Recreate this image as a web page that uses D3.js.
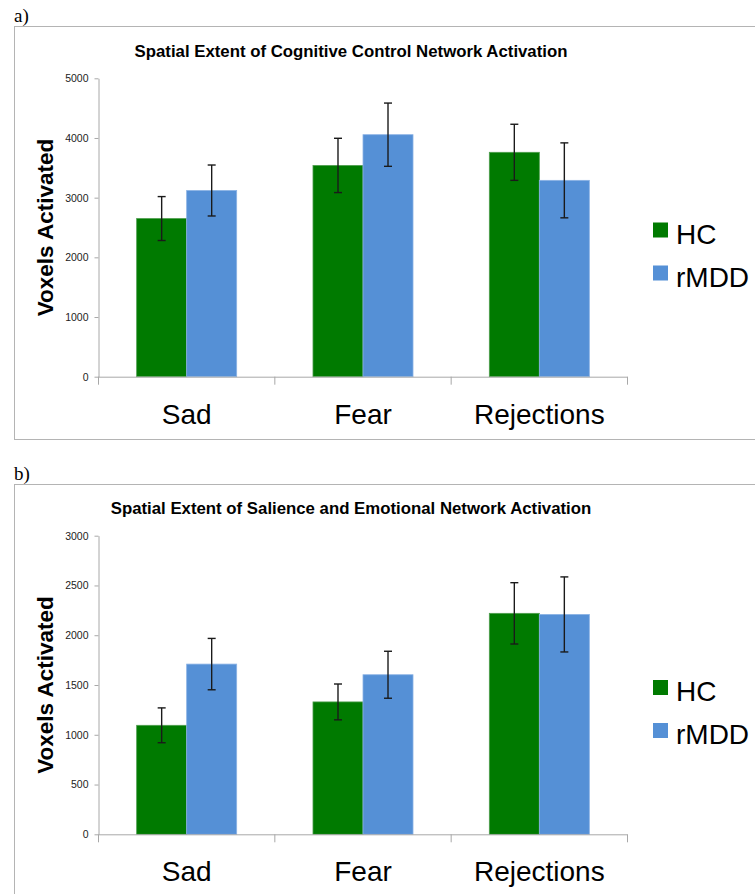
<!DOCTYPE html>
<html>
<head>
<meta charset="utf-8">
<script src="https://cdn.jsdelivr.net/npm/d3@7"></script>
<style>
  body { margin: 0; background: #fff; }
  svg { display: block; }
  .tick text { font-family: "Liberation Sans", Arial, sans-serif; }
</style>
</head>
<body>
<div id="chart"></div>
<script>
// categories + groups shared by both panels
var categories = ["Sad", "Fear", "Rejections"];
var groups = ["HC", "rMDD"];

// a) cognitive control network
var ccnHC = [2650, 3540, 3760];
var ccnHCErr = [368, 455, 470];
var ccnMDD = [3120, 4055, 3290];
var ccnMDDErr = [427, 530, 628];
var ccnTicks = [0, 1000, 2000, 3000, 4000, 5000];

// b) salience and emotional network
var senHC = [1095, 1330, 2220];
var senHCErr = [175, 180, 308];
var senMDD = [1710, 1603, 2209];
var senMDDErr = [258, 236, 377];
var senTicks = [0, 500, 1000, 1500, 2000, 2500, 3000];

var colors = { HC: "#007a00", rMDD: "#5590d6" };
var font = '"Liberation Sans", Arial, sans-serif';

var W = 755, H = 894;
var svg = d3.select("#chart").append("svg")
  .attr("width", W)
  .attr("height", H);

function panel(opts) {
  var g = svg.append("g");

  // frame
  g.append("rect")
    .attr("x", 14.5).attr("y", opts.top + 0.5)
    .attr("width", 800).attr("height", opts.boxH)
    .attr("fill", "none").attr("stroke", "#b4b4b4").attr("stroke-width", 1);

  g.append("text")
    .attr("x", 14).attr("y", opts.top - 4)
    .attr("font-family", '"Liberation Serif", "Times New Roman", serif')
    .attr("font-size", 19)
    .text(opts.label);

  g.append("text")
    .attr("x", 351).attr("y", opts.titleY)
    .attr("text-anchor", "middle")
    .attr("font-family", font).attr("font-weight", "bold").attr("font-size", 16.8)
    .text(opts.title);

  var x0 = d3.scaleBand().domain(categories).range([98.5, 627.5]);
  var x1 = d3.scaleBand().domain(groups).range([0, x0.bandwidth()]).paddingOuter(0.763);
  var y = d3.scaleLinear().domain([0, d3.max(opts.ticks)]).range([opts.y0, opts.y1]);

  var yAxis = d3.axisLeft(y).tickValues(opts.ticks).tickFormat(d3.format("d"))
    .tickSize(4).tickSizeOuter(0).tickPadding(6);
  var ya = g.append("g").attr("transform", "translate(98.5,0)").call(yAxis);
  ya.select(".domain").attr("stroke", "#a8a8a8");
  ya.selectAll(".tick line").attr("stroke", "#a8a8a8");
  ya.selectAll(".tick text").attr("font-size", 10.5).attr("fill", "#222");

  g.append("text")
    .attr("transform", "translate(53," + ((opts.y0 + opts.y1) / 2) + ") rotate(-90)")
    .attr("text-anchor", "middle")
    .attr("font-family", font).attr("font-weight", "bold").attr("font-size", 22.5)
    .text("Voxels Activated");

  var series = [
    { key: "HC", vals: opts.hc, errs: opts.hcErr },
    { key: "rMDD", vals: opts.mdd, errs: opts.mddErr }
  ];

  var rows = [];
  series.forEach(function(s) {
    categories.forEach(function(c, i) {
      rows.push({ cat: c, key: s.key, v: s.vals[i], e: s.errs[i] });
    });
  });

  // bars
  g.selectAll("rect.bar")
    .data(rows)
    .enter()
    .append("rect")
    .attr("class", "bar")
    .attr("x", function(d) { return x0(d.cat) + x1(d.key); })
    .attr("y", function(d) { return y(d.v); })
    .attr("width", x1.bandwidth())
    .attr("height", function(d) { return y(0) - y(d.v); })
    .attr("fill", function(d) { return colors[d.key]; })
    .attr("stroke", function(d) { return d.key == "HC" ? "#4f9e4f" : "#8ab2e4"; })
    .attr("stroke-width", 0.8);

  // x axis line + category ticks
  g.append("line")
    .attr("x1", x0.range()[0]).attr("x2", x0.range()[1])
    .attr("y1", y(0) + 0.5).attr("y2", y(0) + 0.5)
    .attr("stroke", "#a8a8a8");
  var edges = categories.map(function(c) { return x0(c); }).concat([x0.range()[1]]);
  g.selectAll("line.xt")
    .data(edges)
    .enter()
    .append("line")
    .attr("class", "xt")
    .attr("x1", function(d) { return d; }).attr("x2", function(d) { return d; })
    .attr("y1", y(0)).attr("y2", y(0) + 8)
    .attr("stroke", "#a8a8a8");

  g.selectAll("text.cat")
    .data(categories)
    .enter()
    .append("text")
    .attr("class", "cat")
    .attr("x", function(d) { return x0(d) + x0.bandwidth() / 2; })
    .attr("y", y(0) + 47)
    .attr("text-anchor", "middle")
    .attr("font-family", font).attr("font-size", 28)
    .text(function(d) { return d; });

  // error bars
  var eb = g.selectAll("g.err")
    .data(rows)
    .enter()
    .append("g")
    .attr("class", "err")
    .attr("stroke", "#1a1a1a")
    .attr("stroke-width", 1.4);
  eb.append("line")
    .attr("x1", function(d) { return x0(d.cat) + x1(d.key) + x1.bandwidth() / 2; })
    .attr("x2", function(d) { return x0(d.cat) + x1(d.key) + x1.bandwidth() / 2; })
    .attr("y1", function(d) { return y(d.v + d.e); })
    .attr("y2", function(d) { return y(d.v - d.e); });
  [1, -1].forEach(function(sgn) {
    eb.append("line")
      .attr("x1", function(d) { return x0(d.cat) + x1(d.key) + x1.bandwidth() / 2 - 4; })
      .attr("x2", function(d) { return x0(d.cat) + x1(d.key) + x1.bandwidth() / 2 + 4; })
      .attr("y1", function(d) { return y(d.v + sgn * d.e); })
      .attr("y2", function(d) { return y(d.v + sgn * d.e); });
  });

  // legend
  var mid = (opts.y0 + opts.y1) / 2;
  var lg = g.selectAll("g.leg")
    .data(groups)
    .enter()
    .append("g")
    .attr("class", "leg")
    .attr("transform", function(d, i) { return "translate(653," + (mid - 5 + i * 43) + ")"; });
  lg.append("rect")
    .attr("width", 15).attr("height", 15)
    .attr("fill", function(d) { return colors[d]; });
  lg.append("text")
    .attr("x", 23).attr("y", 21)
    .attr("font-family", font).attr("font-size", 28)
    .text(function(d) { return d; });
}

panel({
  label: "a)", top: 26, boxH: 413, titleY: 57,
  title: "Spatial Extent of Cognitive Control Network Activation",
  y0: 376.7, y1: 78.3, ticks: ccnTicks,
  hc: ccnHC, hcErr: ccnHCErr, mdd: ccnMDD, mddErr: ccnMDDErr
});

panel({
  label: "b)", top: 484, boxH: 500, titleY: 514,
  title: "Spatial Extent of Salience and Emotional Network Activation",
  y0: 834.3, y1: 535.7, ticks: senTicks,
  hc: senHC, hcErr: senHCErr, mdd: senMDD, mddErr: senMDDErr
});
</script>
</body>
</html>
